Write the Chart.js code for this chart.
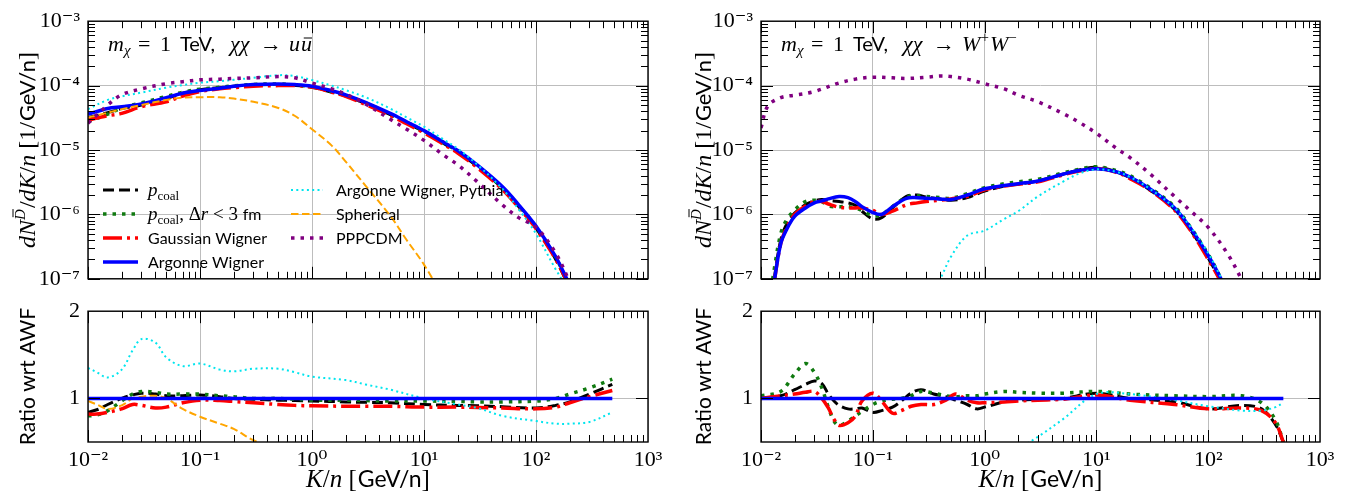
<!DOCTYPE html>
<html>
<head>
<meta charset="utf-8">
<script src="https://cdn.jsdelivr.net/npm/chart.js@4.4.1/dist/chart.umd.min.js"></script>
<style>
html, body { margin: 0; padding: 0; background: #fff; }
#wrap { position: relative; width: 1346px; height: 502px; overflow: hidden; }
canvas { position: absolute; }
</style>
</head>
<body>
<div id="wrap">
<canvas id="uuTop" width="680" height="300" style="left:0px;top:0px"></canvas>
<canvas id="uuRatio" width="680" height="212" style="left:0px;top:290px"></canvas>
<canvas id="wwTop" width="666" height="300" style="left:680px;top:0px"></canvas>
<canvas id="wwRatio" width="666" height="212" style="left:680px;top:290px"></canvas>
</div>
<script>
// --- chi chi -> u ubar, spectra (1/GeV/n) ---
const uuK = [0.01, 0.015, 0.02, 0.03, 0.05, 0.07, 0.1, 0.15, 0.2, 0.3, 0.5, 0.7, 1, 1.5, 2, 3, 5, 7, 10, 15, 20, 30, 50, 70, 100, 150, 200];
const uuPcoal = [3.2e-5, 3.8e-5, 4.4e-5, 5.0e-5, 6.3e-5, 7.6e-5, 8.6e-5, 9.3e-5, 9.8e-5, 1.02e-4, 1.04e-4, 1.01e-4, 9.4e-5, 7.9e-5, 6.9e-5, 5.3e-5, 3.55e-5, 2.65e-5, 1.92e-5, 1.26e-5, 9.3e-6, 5.5e-6, 2.55e-6, 1.33e-6, 6.1e-7, 2.0e-7, 7e-8];
const uuPcoal3fm = [2.75e-5, 3.6e-5, 4.5e-5, 5.4e-5, 6.8e-5, 7.9e-5, 8.8e-5, 9.4e-5, 9.9e-5, 1.04e-4, 1.06e-4, 1.02e-4, 9.5e-5, 8.1e-5, 7.0e-5, 5.4e-5, 3.6e-5, 2.7e-5, 1.96e-5, 1.29e-5, 9.6e-6, 5.6e-6, 2.6e-6, 1.37e-6, 6.4e-7, 2.15e-7, 7.8e-8];
const uuGauss = [2.9e-5, 3.4e-5, 3.7e-5, 4.7e-5, 5.6e-5, 6.9e-5, 8.1e-5, 8.9e-5, 9.3e-5, 9.8e-5, 1.0e-4, 1.0e-4, 9.5e-5, 7.9e-5, 6.8e-5, 5.1e-5, 3.45e-5, 2.55e-5, 1.85e-5, 1.22e-5, 9.0e-6, 5.3e-6, 2.45e-6, 1.28e-6, 6.0e-7, 2.0e-7, 7.5e-8];
const uuArgonne = [3.6e-5, 4.4e-5, 4.7e-5, 5.2e-5, 6.5e-5, 7.6e-5, 8.4e-5, 9.1e-5, 9.8e-5, 1.04e-4, 1.06e-4, 1.04e-4, 9.8e-5, 8.3e-5, 7.2e-5, 5.5e-5, 3.7e-5, 2.75e-5, 2.0e-5, 1.32e-5, 9.8e-6, 5.8e-6, 2.7e-6, 1.41e-6, 6.6e-7, 2.2e-7, 8e-8];
const uuPythia = [4.3e-5, 6.0e-5, 6.8e-5, 7.8e-5, 9.3e-5, 1.02e-4, 1.11e-4, 1.17e-4, 1.23e-4, 1.32e-4, 1.45e-4, 1.41e-4, 1.22e-4, 1.0e-4, 8.5e-5, 6.6e-5, 4.4e-5, 3.2e-5, 2.3e-5, 1.45e-5, 1.05e-5, 5.9e-6, 2.5e-6, 1.2e-6, 5.0e-7, 1.4e-7, 6.3e-8];
const uuSpherical = [3.2e-5, 3.8e-5, 4.3e-5, 5.0e-5, 6.0e-5, 6.5e-5, 6.6e-5, 6.6e-5, 6.3e-5, 5.6e-5, 4.5e-5, 3.4e-5, 2.1e-5, 1.17e-5, 6.6e-6, 2.8e-6, 9.5e-7, 4.0e-7, 1.66e-7, 5e-8, null, null, null, null, null, null, null];
const uuPppc = [2.6e-5, 5.0e-5, 7.2e-5, 8.9e-5, 1.07e-4, 1.15e-4, 1.23e-4, 1.26e-4, 1.29e-4, 1.32e-4, 1.38e-4, 1.32e-4, 1.1e-4, 8.9e-5, 7.4e-5, 5.2e-5, 3.0e-5, 2.1e-5, 1.41e-5, 8.3e-6, 5.9e-6, 3.2e-6, 1.41e-6, 8.9e-7, 6.3e-7, 2.5e-7, 8.9e-8];

// --- chi chi -> u ubar, ratio to Argonne Wigner ---
const uuRatioK = [0.01, 0.012, 0.015, 0.02, 0.025, 0.03, 0.04, 0.05, 0.07, 0.1, 0.15, 0.2, 0.3, 0.5, 0.7, 1, 2, 3, 5, 10, 20, 30, 50, 100, 150, 200, 300, 480];
const uuRatioPcoal = [0.84, 0.87, 0.93, 1.0, 1.04, 1.06, 1.05, 1.03, 1.03, 1.04, 1.02, 1.0, 0.99, 0.98, 0.975, 0.97, 0.96, 0.955, 0.95, 0.93, 0.92, 0.915, 0.905, 0.89, 0.92, 0.96, 1.05, 1.16];
const uuRatioPcoal3fm = [0.80, 0.81, 0.86, 0.97, 1.05, 1.08, 1.07, 1.05, 1.05, 1.05, 1.03, 1.02, 1.0, 1.0, 0.99, 0.98, 0.98, 0.975, 0.97, 0.97, 0.965, 0.96, 0.96, 0.97, 1.0, 1.05, 1.12, 1.22];
const uuRatioGauss = [0.82, 0.82, 0.84, 0.88, 0.93, 0.92, 0.89, 0.90, 0.95, 0.98, 0.975, 0.965, 0.95, 0.93, 0.92, 0.915, 0.91, 0.91, 0.91, 0.90, 0.90, 0.895, 0.89, 0.88, 0.90, 0.95, 1.02, 1.09];
const uuRatioArgonne = [1, 1, 1, 1, 1, 1, 1, 1, 1, 1, 1, 1, 1, 1, 1, 1, 1, 1, 1, 1, 1, 1, 1, 1, 1, 1, 1, 1];
const uuRatioPythia = [1.35, 1.3, 1.24, 1.33, 1.55, 1.68, 1.64, 1.47, 1.37, 1.40, 1.33, 1.31, 1.34, 1.34, 1.3, 1.25, 1.21, 1.16, 1.1, 1.0, 0.93, 0.89, 0.8, 0.74, 0.71, 0.71, 0.73, 0.84];
const uuRatioSpherical = [0.97, 0.93, 0.88, 0.92, 1.0, 1.02, 1.03, 1.0, 0.88, 0.79, 0.71, 0.65, 0.52, 0.4, null, null, null, null, null, null, null, null, null, null, null, null, null, null];

// --- chi chi -> W+ W-, spectra ---
const wwK = [0.012, 0.013, 0.015, 0.017, 0.02, 0.025, 0.03, 0.035, 0.04, 0.05, 0.06, 0.07, 0.08, 0.1, 0.12, 0.15, 0.2, 0.25, 0.3, 0.4, 0.5, 0.7, 1, 1.5, 2, 3, 5, 7, 10, 15, 20, 30, 50, 70, 100, 130, 150];
const wwPcoal = [3.2e-8, 8.9e-8, 4.0e-7, 7.1e-7, 1.05e-6, 1.41e-6, 1.62e-6, 1.7e-6, 1.66e-6, 1.58e-6, 1.51e-6, 1.38e-6, 1.12e-6, 8.5e-7, 8.9e-7, 1.26e-6, 1.9e-6, 2.0e-6, 1.86e-6, 1.74e-6, 1.66e-6, 1.82e-6, 2.3e-6, 2.75e-6, 2.95e-6, 3.3e-6, 4.2e-6, 4.9e-6, 5.4e-6, 4.6e-6, 3.7e-6, 2.4e-6, 1.2e-6, 5.6e-7, 2.1e-7, 8.9e-8, 5e-8];
const wwPcoal3fm = [5e-8, 1.26e-7, 5.0e-7, 8.3e-7, 1.17e-6, 1.58e-6, 1.66e-6, 1.58e-6, 1.35e-6, 1.32e-6, 1.32e-6, 1.26e-6, 1.15e-6, 9.5e-7, 1.0e-6, 1.32e-6, 1.86e-6, 1.95e-6, 1.9e-6, 1.82e-6, 1.78e-6, 2.1e-6, 2.6e-6, 3.0e-6, 3.2e-6, 3.5e-6, 4.4e-6, 5.0e-6, 5.5e-6, 4.8e-6, 4.0e-6, 2.6e-6, 1.32e-6, 6.2e-7, 2.4e-7, 1.0e-7, 5e-8];
const wwGauss = [3.2e-8, 7.9e-8, 3.5e-7, 6.3e-7, 1.0e-6, 1.35e-6, 1.58e-6, 1.58e-6, 1.45e-6, 1.29e-6, 1.26e-6, 1.26e-6, 1.26e-6, 1.15e-6, 1.0e-6, 1.12e-6, 1.41e-6, 1.51e-6, 1.58e-6, 1.66e-6, 1.74e-6, 1.9e-6, 2.4e-6, 2.75e-6, 2.95e-6, 3.2e-6, 4.1e-6, 4.7e-6, 5.2e-6, 4.5e-6, 3.6e-6, 2.4e-6, 1.17e-6, 5.5e-7, 2.0e-7, 8.9e-8, 5e-8];
const wwArgonne = [2.5e-8, 7.9e-8, 3.5e-7, 5.9e-7, 9.3e-7, 1.26e-6, 1.51e-6, 1.62e-6, 1.74e-6, 1.9e-6, 1.82e-6, 1.58e-6, 1.32e-6, 1.07e-6, 1.0e-6, 1.32e-6, 1.78e-6, 1.82e-6, 1.78e-6, 1.74e-6, 1.7e-6, 2.0e-6, 2.5e-6, 2.8e-6, 3.0e-6, 3.3e-6, 4.2e-6, 4.8e-6, 5.1e-6, 4.6e-6, 3.8e-6, 2.5e-6, 1.26e-6, 6.0e-7, 2.3e-7, 1.0e-7, 5.6e-8];
const wwPythia = [null, null, null, null, null, null, null, null, null, null, null, null, null, null, null, null, null, null, 5e-8, 1.0e-7, 2.2e-7, 4.7e-7, 5.6e-7, 8.5e-7, 1.12e-6, 1.9e-6, 3.2e-6, 4.3e-6, 5.0e-6, 4.6e-6, 3.8e-6, 2.5e-6, 1.26e-6, 6.3e-7, 2.5e-7, 1.05e-7, 6.3e-8];
const wwPppcK = [0.01, 0.0115, 0.015, 0.02, 0.03, 0.05, 0.07, 0.1, 0.15, 0.2, 0.3, 0.4, 0.5, 0.7, 1, 1.5, 2, 3, 5, 7, 10, 15, 20, 30, 50, 70, 100, 150, 200, 250];
const wwPppc = [2.2e-5, 4.8e-5, 6.5e-5, 7.1e-5, 8.1e-5, 1.1e-4, 1.26e-4, 1.35e-4, 1.32e-4, 1.29e-4, 1.35e-4, 1.41e-4, 1.38e-4, 1.26e-4, 1.07e-4, 8.9e-5, 7.1e-5, 5.6e-5, 3.7e-5, 2.7e-5, 1.82e-5, 1.07e-5, 7.6e-6, 4.3e-6, 1.9e-6, 1.12e-6, 6.3e-7, 2.4e-7, 9.5e-8, 4e-8];

// --- chi chi -> W+ W-, ratio to Argonne Wigner ---
const wwRatioK = [0.01, 0.015, 0.02, 0.025, 0.03, 0.035, 0.04, 0.045, 0.05, 0.06, 0.07, 0.08, 0.1, 0.12, 0.15, 0.18, 0.22, 0.27, 0.35, 0.45, 0.55, 0.7, 0.85, 1, 1.5, 2, 3, 5, 10, 20, 50, 100, 200, 300, 400, 470];
const wwRatioPcoal = [1.0, 1.03, 1.1, 1.16, 1.2, 1.17, 1.05, 0.97, 0.92, 0.88, 0.88, 0.89, 0.84, 0.86, 0.9, 0.97, 1.06, 1.1, 1.05, 1.02, 0.98, 0.93, 0.88, 0.9, 0.96, 0.98, 0.99, 1.0, 1.06, 1.0, 0.96, 0.88, 0.92, 0.88, 0.7, 0.5];
const wwRatioPcoal3fm = [1.03, 1.08, 1.28, 1.4, 1.3, 1.12, 0.9, 0.74, 0.69, 0.74, 0.8, 0.85, 0.93, 0.97, 0.99, 1.0, 1.03, 1.08, 1.06, 1.03, 1.02, 1.03, 1.03, 1.05, 1.08, 1.07, 1.06, 1.06, 1.08, 1.05, 1.03, 1.02, 1.03, 0.95, 0.75, 0.5];
const wwRatioGauss = [1.0, 1.03, 1.05, 1.07, 1.08, 1.0, 0.89, 0.76, 0.69, 0.72, 0.8, 0.97, 1.06, 0.97, 0.83, 0.86, 0.91, 0.93, 0.93, 0.98, 1.05, 0.98, 0.95, 0.95, 0.96, 0.97, 0.98, 0.99, 1.04, 0.98, 0.93, 0.88, 0.89, 0.86, 0.72, 0.5];
const wwRatioArgonne = [1, 1, 1, 1, 1, 1, 1, 1, 1, 1, 1, 1, 1, 1, 1, 1, 1, 1, 1, 1, 1, 1, 1, 1, 1, 1, 1, 1, 1, 1, 1, 1, 1, 1, 1, 1];
const wwRatioPythia = [null, null, null, null, null, null, null, null, null, null, null, null, null, null, null, null, null, null, null, null, null, null, null, null, null, 0.42, 0.56, 0.76, 1.05, 1.05, 0.98, 0.91, 0.86, 0.86, 0.9, 0.95];

const decadeTicksX = [0.01, 0.1, 1, 10, 100, 1000];

const SERIF = '"Liberation Serif", "DejaVu Serif", serif';
const SANS = 'Lato, "DejaVu Sans", sans-serif';
const mi = s => `italic ${s}px ${SERIF}`;
const mr = s => `${s}px ${SERIF}`;
const sf = s => `${s}px ${SANS}`;

const styles = {
    pcoal: { color: '#000000', width: 3, dash: [11, 5] },
    pcoal3fm: { color: '#107a10', width: 3.5, dash: [3.5, 6] },
    gauss: { color: '#ff0000', width: 3.5, dash: [19, 5, 3, 5] },
    argonne: { color: '#0000ff', width: 3.5, dash: [] },
    pythia: { color: '#00e5ee', width: 2, dash: [2, 3.3] },
    spherical: { color: '#ffa500', width: 2, dash: [7.5, 3.5] },
    pppc: { color: '#800080', width: 3.5, dash: [3.5, 6] },
};

const legendItems = [
    { key: 'pcoal', col: 0, row: 0, parts: [{ t: 'p', f: mi(19) }, { t: 'coal', f: mr(13), dy: 4 }] },
    { key: 'pcoal3fm', col: 0, row: 1, parts: [{ t: 'p', f: mi(19) }, { t: 'coal', f: mr(13), dy: 4 }, { t: ', Δ', f: mr(19) }, { t: 'r', f: mi(19) }, { t: ' < 3 ', f: mr(19) }, { t: 'fm', f: sf(16) }] },
    { key: 'gauss', col: 0, row: 2, parts: [{ t: 'Gaussian Wigner', f: sf(16) }] },
    { key: 'argonne', col: 0, row: 3, parts: [{ t: 'Argonne Wigner', f: sf(16) }] },
    { key: 'pythia', col: 1, row: 0, parts: [{ t: 'Argonne Wigner, Pythia', f: sf(16) }] },
    { key: 'spherical', col: 1, row: 1, parts: [{ t: 'Spherical', f: sf(16) }] },
    { key: 'pppc', col: 1, row: 2, parts: [{ t: 'PPPCDM', f: sf(16) }] },
];

const SUP = { '-': '⁻', '0': '⁰', '1': '¹', '2': '²', '3': '³', '4': '⁴', '5': '⁵', '6': '⁶', '7': '⁷', '8': '⁸', '9': '⁹' };
const powLabel = v => '10' + String(Math.round(Math.log10(v))).split('').map(c => SUP[c]).join('');

function keepDecades(scale) {
    scale.ticks = scale.ticks.filter(t => {
        const l = Math.log10(t.value);
        return Math.abs(l - Math.round(l)) < 1e-6;
    });
}

// parts: {t: text, f: font, dy: baseline shift, at: fixed offset from start, gap: extra space after, bar: overline height (em)}
function rich(ctx, parts, x, y, align) {
    let w = 0;
    for (const p of parts) {
        ctx.font = p.f;
        if (p.at !== undefined) w = p.at;
        w += ctx.measureText(p.t).width + (p.gap || 0);
    }
    const x0 = align === 'center' ? x - w / 2 : x;
    let cx = x0;
    for (const p of parts) {
        ctx.font = p.f;
        if (p.at !== undefined) cx = x0 + p.at;
        const tw = ctx.measureText(p.t).width;
        ctx.fillText(p.t, cx, y + (p.dy || 0));
        if (p.bar) {
            const size = parseFloat(p.f.match(/(\d+(\.\d+)?)px/)[1]);
            const by = y + (p.dy || 0) - size * p.bar;
            ctx.save();
            ctx.strokeStyle = ctx.fillStyle;
            ctx.lineWidth = 1;
            ctx.beginPath();
            ctx.moveTo(cx + tw * 0.25, by);
            ctx.lineTo(cx + tw * 1.0, by);
            ctx.stroke();
            ctx.restore();
        }
        cx += tw + (p.gap || 0);
    }
}

function series(xs, ys, key) {
    const st = styles[key];
    return {
        data: xs.map((x, i) => ({ x, y: ys[i] })),
        borderColor: st.color,
        borderWidth: st.width,
        borderDash: st.dash,
        borderCapStyle: 'butt',
        pointRadius: 0,
        fill: false,
        tension: 0.35,
        spanGaps: false,
    };
}

function decor(cfg) {
    return {
        id: 'decor',
        afterDatasetsDraw(chart) {
            const { ctx, chartArea: a, scales: { x, y } } = chart;
            ctx.save();
            ctx.strokeStyle = '#000';
            ctx.lineWidth = 1;
            const seg = (x1, y1, x2, y2) => { ctx.beginPath(); ctx.moveTo(x1, y1); ctx.lineTo(x2, y2); ctx.stroke(); };
            for (let k = -2; k <= 2; k++) {
                for (let m = 1; m <= 9; m++) {
                    const px = Math.round(x.getPixelForValue(m * Math.pow(10, k))) + 0.5;
                    const len = m === 1 ? 12 : 7;
                    seg(px, a.bottom, px, a.bottom - len);
                    seg(px, a.top, px, a.top + len);
                }
            }
            if (cfg.logY) {
                for (let k = -7; k <= -4; k++) {
                    for (let m = 1; m <= 9; m++) {
                        const py = Math.round(y.getPixelForValue(m * Math.pow(10, k))) + 0.5;
                        const len = m === 1 ? 12 : 7;
                        seg(a.left, py, a.left + len, py);
                        seg(a.right, py, a.right - len, py);
                    }
                }
            } else {
                const py = Math.round(y.getPixelForValue(1)) + 0.5;
                seg(a.left, py, a.left + 12, py);
                seg(a.right, py, a.right - 12, py);
            }
            ctx.lineWidth = 1.4;
            ctx.strokeRect(a.left, a.top, a.right - a.left, a.bottom - a.top);
            ctx.restore();
        },
        afterDraw(chart) {
            const { ctx, chartArea: a } = chart;
            ctx.save();
            ctx.fillStyle = '#000';
            ctx.textBaseline = 'alphabetic';
            if (cfg.note) rich(ctx, cfg.note, a.left + 20, a.top + 30, 'left');
            if (cfg.yTitle) {
                ctx.save();
                ctx.translate(cfg.yTitleX, (a.top + a.bottom) / 2);
                ctx.rotate(-Math.PI / 2);
                rich(ctx, cfg.yTitle, 0, 8, 'center');
                ctx.restore();
            }
            if (cfg.xTitle) rich(ctx, cfg.xTitle, (a.left + a.right) / 2, cfg.xTitleY, 'center');
            if (cfg.legend) {
                const cols = [{ x0: 103, x1: 138, tx: 148 }, { x0: 291, x1: 323, tx: 336 }];
                const rows = [190, 214, 238, 262];
                for (const it of legendItems) {
                    const st = styles[it.key];
                    const c = cols[it.col], ry = rows[it.row];
                    ctx.save();
                    ctx.strokeStyle = st.color;
                    ctx.lineWidth = st.width;
                    ctx.setLineDash(st.dash);
                    ctx.lineCap = 'butt';
                    ctx.beginPath();
                    ctx.moveTo(c.x0, ry);
                    ctx.lineTo(c.x1, ry);
                    ctx.stroke();
                    ctx.restore();
                    rich(ctx, it.parts, c.tx, ry + 6, 'left');
                }
            }
            ctx.restore();
        },
    };
}

function makeChart(id, datasets, cfg) {
    const tickFont = { family: SERIF, size: 22 };
    const yScale = cfg.logY ? {
        type: 'logarithmic', min: 1e-7, max: 1e-3,
        afterBuildTicks: keepDecades,
        afterFit: s => { s.width = cfg.yWidth; },
        grid: { color: '#bdbdbd', lineWidth: 1, drawTicks: false },
        border: { display: false },
        ticks: { padding: 8, color: '#000', font: tickFont, autoSkip: false, callback: powLabel },
    } : {
        type: 'linear', min: 0.5, max: 2,
        afterBuildTicks: s => { s.ticks = [{ value: 1 }, { value: 2 }]; },
        afterFit: s => { s.width = cfg.yWidth; },
        grid: { color: '#bdbdbd', lineWidth: 1, drawTicks: false },
        border: { display: false },
        ticks: { padding: 8, color: '#000', font: tickFont, autoSkip: false, callback: v => String(v) },
    };
    return new Chart(document.getElementById(id), {
        type: 'line',
        data: { datasets },
        options: {
            responsive: false,
            animation: false,
            devicePixelRatio: 1,
            events: [],
            layout: { padding: { left: 0, top: cfg.padTop, right: cfg.padRight, bottom: 0 } },
            plugins: { legend: { display: false }, tooltip: { enabled: false } },
            scales: {
                x: {
                    type: 'logarithmic', min: 0.01, max: 1000,
                    afterBuildTicks: s => { s.ticks = decadeTicksX.map(value => ({ value })); },
                    afterFit: s => { s.height = cfg.xHeight; },
                    grid: { color: '#bdbdbd', lineWidth: 1, drawTicks: false },
                    border: { display: false },
                    ticks: { display: cfg.xLabels, padding: 5, color: '#000', font: tickFont, maxRotation: 0, autoSkip: false, callback: powLabel },
                },
                y: yScale,
            },
        },
        plugins: [decor(cfg)],
    });
}

const yTitleParts = [
    { t: 'dN', f: mi(24) }, { t: 'D', f: mi(15), dy: -10, bar: 0.8, gap: 1 }, { t: '/', f: mr(24) }, { t: 'dK', f: mi(24) },
    { t: '/', f: mr(24) }, { t: 'n', f: mi(24) }, { t: ' [1/', f: mr(24), gap: 1 }, { t: 'GeV/n', f: sf(22) }, { t: ']', f: mr(24) },
];
const ratioTitleParts = [{ t: 'Ratio wrt AWF', f: sf(21) }];
const xTitleParts = [{ t: 'K', f: mi(25) }, { t: '/', f: mr(25) }, { t: 'n', f: mi(25) }, { t: ' [', f: mr(25), gap: 1 }, { t: 'GeV/n', f: sf(23) }, { t: ']', f: mr(25) }];
const noteHead = [{ t: 'm', f: mi(22), at: 0 }, { t: 'χ', f: mi(15), dy: 4 }, { t: '=', f: mr(22), at: 30 }, { t: '1', f: mr(22), at: 52 }, { t: 'TeV,', f: sf(20), at: 72 }, { t: 'χχ', f: mi(22), at: 122 }, { t: '→', f: mr(22), at: 152 }];
const uuNote = noteHead.concat([{ t: 'u', f: mi(22), at: 181 }, { t: 'u', f: mi(22), at: 193, bar: 0.6 }]);
const wwNote = noteHead.concat([{ t: 'W', f: mi(22), at: 181 }, { t: '+', f: mr(14), dy: -9, at: 200 }, { t: 'W', f: mi(22), at: 209 }, { t: '−', f: mr(14), dy: -9, at: 228 }]);

makeChart('uuTop', [
    series(uuK, uuPppc, 'pppc'),
    series(uuK, uuSpherical, 'spherical'),
    series(uuK, uuPythia, 'pythia'),
    series(uuK, uuArgonne, 'argonne'),
    series(uuK, uuGauss, 'gauss'),
    series(uuK, uuPcoal3fm, 'pcoal3fm'),
    series(uuK, uuPcoal, 'pcoal'),
], { logY: true, yWidth: 88, padTop: 19, padRight: 32, xHeight: 16, xLabels: false, note: uuNote, yTitle: yTitleParts, yTitleX: 27, legend: true });

makeChart('uuRatio', [
    series(uuRatioK, uuRatioArgonne, 'argonne'),
    series(uuRatioK, uuRatioSpherical, 'spherical'),
    series(uuRatioK, uuRatioPythia, 'pythia'),
    series(uuRatioK, uuRatioGauss, 'gauss'),
    series(uuRatioK, uuRatioPcoal3fm, 'pcoal3fm'),
    series(uuRatioK, uuRatioPcoal, 'pcoal'),
], { logY: false, yWidth: 88, padTop: 18, padRight: 32, xHeight: 60, xLabels: true, yTitle: ratioTitleParts, yTitleX: 27, xTitle: xTitleParts, xTitleY: 197 });

makeChart('wwTop', [
    series(wwPppcK, wwPppc, 'pppc'),
    series(wwK, wwPythia, 'pythia'),
    series(wwK, wwArgonne, 'argonne'),
    series(wwK, wwGauss, 'gauss'),
    series(wwK, wwPcoal3fm, 'pcoal3fm'),
    series(wwK, wwPcoal, 'pcoal'),
], { logY: true, yWidth: 81, padTop: 19, padRight: 26, xHeight: 16, xLabels: false, note: wwNote, yTitle: yTitleParts, yTitleX: 23 });

makeChart('wwRatio', [
    series(wwRatioK, wwRatioArgonne, 'argonne'),
    series(wwRatioK, wwRatioPythia, 'pythia'),
    series(wwRatioK, wwRatioGauss, 'gauss'),
    series(wwRatioK, wwRatioPcoal3fm, 'pcoal3fm'),
    series(wwRatioK, wwRatioPcoal, 'pcoal'),
], { logY: false, yWidth: 81, padTop: 18, padRight: 26, xHeight: 60, xLabels: true, yTitle: ratioTitleParts, yTitleX: 23, xTitle: xTitleParts, xTitleY: 197 });
</script>
</body>
</html>
